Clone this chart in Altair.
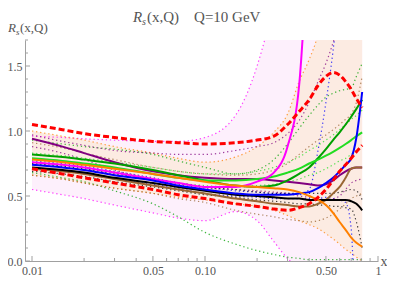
import altair as alt
import pandas as pd

X = [0.01, 0.015, 0.02, 0.03, 0.05, 0.07, 0.1, 0.15, 0.2, 0.25, 0.3, 0.35, 0.4,
     0.45, 0.5, 0.55, 0.6, 0.65, 0.7, 0.75, 0.81]

# central curves
purple = [0.94, 0.88, 0.83, 0.76, 0.69, 0.66, 0.64, 0.63, 0.63, 0.62, 0.61, 0.60, 0.59, 0.58, 0.59, 0.62, 0.66, 0.69, 0.71, 0.72, 0.72]
green = [0.82, 0.80, 0.78, 0.75, 0.70, 0.66, 0.62, 0.58, 0.57, 0.58, 0.62, 0.67, 0.72, 0.79, 0.86, 0.93, 0.99, 1.05, 1.11, 1.17, 1.24]
lime = [0.79, 0.77, 0.75, 0.72, 0.67, 0.64, 0.62, 0.62, 0.63, 0.65, 0.68, 0.71, 0.75, 0.78, 0.81, 0.84, 0.87, 0.90, 0.93, 0.96, 0.99]
magenta = [0.76, 0.74, 0.72, 0.68, 0.63, 0.60, 0.57, 0.57, 0.61, 0.68, 0.88, 1.35, 2.60, None, None, None, None, None, None, None, None]
blue = [0.74, 0.72, 0.70, 0.66, 0.62, 0.58, 0.55, 0.52, 0.51, 0.51, 0.51, 0.52, 0.53, 0.56, 0.60, 0.64, 0.69, 0.74, 0.79, 0.95, 1.30]
black = [0.72, 0.70, 0.68, 0.64, 0.60, 0.57, 0.54, 0.51, 0.50, 0.49, 0.48, 0.48, 0.47, 0.47, 0.47, 0.47, 0.47, 0.47, 0.46, 0.44, 0.39]
brown = [0.71, 0.69, 0.67, 0.63, 0.58, 0.55, 0.52, 0.48, 0.46, 0.44, 0.43, 0.42, 0.42, 0.44, 0.47, 0.52, 0.57, 0.64, 0.71, 0.72, 0.72]
orange = [0.78, 0.76, 0.74, 0.71, 0.67, 0.64, 0.61, 0.58, 0.57, 0.56, 0.55, 0.53, 0.50, 0.47, 0.43, 0.37, 0.30, 0.24, 0.18, 0.14, 0.11]
red_hi = [1.05, 1.01, 0.98, 0.95, 0.92, 0.91, 0.90, 0.91, 0.93, 0.96, 1.05, 1.15, 1.24, 1.35, 1.42, 1.45, 1.43, 1.38, 1.32, 1.25, 1.18]
red_lo = [0.71, 0.67, 0.64, 0.60, 0.55, 0.51, 0.48, 0.44, 0.42, 0.40, 0.39, 0.41, 0.44, 0.49, 0.55, 0.62, 0.69, 0.74, 0.79, 0.84, 0.89]

# error-band edges (dotted)
mag_hi = [0.96, 0.95, 0.94, 0.93, 0.92, 0.92, 0.95, 1.12, 1.50, 2.0, 2.6, 3, 3, 3, 3, 3, 3, 3, 3, 3, 3]
mag_lo = [0.55, 0.51, 0.48, 0.43, 0.37, 0.33, 0.31, 0.38, 0.31, 0.15, 0.02, -0.05, -0.05, -0.05, -0.05, -0.05, -0.05, -0.05, -0.05, -0.05, -0.05]
org_hi = [1.00, 0.96, 0.93, 0.88, 0.83, 0.79, 0.76, 0.80, 0.88, 0.99, 1.13, 1.38, 1.55, 1.75, 2.1, 2.5, 3, 3, 3, 3, 3]
org_lo = [0.66, 0.63, 0.60, 0.56, 0.52, 0.49, 0.47, 0.44, 0.42, 0.39, 0.35, 0.31, 0.28, 0.25, 0.21, 0.17, 0.13, 0.09, 0.06, 0.03, 0.0]
grn_hi = [0.93, 0.90, 0.88, 0.86, 0.82, 0.77, 0.72, 0.67, 0.70, 0.78, 0.90, 1.02, 1.12, 1.20, 1.26, 1.29, 1.31, 1.32, 1.33, 1.42, 1.52]
grn_lo = [0.68, 0.64, 0.61, 0.54, 0.44, 0.34, 0.22, 0.13, 0.08, 0.05, 0.03, 0.02, 0.01, 0.01, 0.01, 0.01, 0.01, 0.01, 0.01, 0.01, 0.01]
lim_hi = [0.83, 0.81, 0.79, 0.76, 0.72, 0.69, 0.67, 0.67, 0.69, 0.72, 0.76, 0.80, 0.85, 0.89, 0.93, 0.97, 1.01, 1.05, 1.09, 1.12, 1.16]
lim_lo = [0.75, 0.73, 0.71, 0.68, 0.63, 0.60, 0.58, 0.57, 0.58, 0.59, 0.61, 0.63, 0.66, 0.68, 0.71, 0.74, 0.77, 0.79, 0.82, 0.85, 0.87]
blu_hi = [0.77, 0.75, 0.73, 0.69, 0.64, 0.60, 0.57, 0.54, 0.53, 0.52, 0.52, 0.51, 0.55, 0.85, 1.22, 1.62, 2.1, 2.6, 3, 3, 3]
blu_lo = [0.71, 0.69, 0.67, 0.63, 0.59, 0.56, 0.52, 0.50, 0.49, 0.48, 0.48, 0.48, 0.48, 0.48, 0.49, 0.48, 0.47, 0.45, 0.25, -0.5, -0.5]
pur_hi = [0.97, 0.92, 0.89, 0.85, 0.83, 0.82, 0.82, 0.85, 0.88, 0.91, 0.98, 1.08, 1.22, 1.38, 1.52, 1.68, 1.85, 2.1, 2.4, 2.7, 3]
pur_lo = [0.88, 0.83, 0.78, 0.70, 0.63, 0.59, 0.56, 0.55, 0.54, 0.53, 0.52, 0.50, 0.49, 0.48, 0.47, 0.48, 0.50, 0.55, 0.60, 0.62, 0.63]
brn_hi = [0.91, 0.87, 0.83, 0.78, 0.72, 0.69, 0.67, 0.66, 0.67, 0.70, 0.75, 0.82, 0.88, 0.93, 0.97, 1.01, 1.05, 1.09, 1.13, 1.22, 1.42]
brn_lo = [0.66, 0.63, 0.60, 0.56, 0.52, 0.48, 0.45, 0.39, 0.36, 0.34, 0.32, 0.31, 0.30, 0.31, 0.33, 0.36, 0.40, 0.44, 0.48, 0.50, 0.52]
blk_hi = [0.75, 0.73, 0.71, 0.67, 0.63, 0.60, 0.57, 0.55, 0.53, 0.52, 0.52, 0.52, 0.52, 0.52, 0.52, 0.52, 0.53, 0.54, 0.55, 0.54, 0.47]
blk_lo = [0.69, 0.67, 0.65, 0.61, 0.57, 0.54, 0.51, 0.49, 0.47, 0.46, 0.45, 0.44, 0.44, 0.43, 0.43, 0.42, 0.42, 0.41, 0.40, 0.30, 0.10]

Y_MAJOR = [0.0, 0.5, 1.0, 1.5]
Y_MINOR = [0.1, 0.2, 0.3, 0.4, 0.6, 0.7, 0.8, 0.9, 1.1, 1.2, 1.3, 1.4, 1.6, 1.7]
X_MAJOR = [0.01, 0.05, 0.1, 0.5, 1.0]
X_MINOR = [0.02, 0.03, 0.04, 0.06, 0.07, 0.08, 0.09, 0.2, 0.3, 0.4, 0.6, 0.7, 0.8, 0.9]

C = {"purple": "#800080", "green": "#00A000", "lime": "#22DD22", "magenta": "#FF00FF",
     "blue": "#0000FF", "black": "#000000", "brown": "#996633", "orange": "#FF8000",
     "red": "#FF0000"}

solid = [("purple", purple, "purple"), ("green", green, "green"), ("lime", lime, "lime"),
         ("magenta", magenta, "magenta"), ("brown", brown, "brown"), ("black", black, "black"),
         ("blue", blue, "blue"), ("orange", orange, "orange")]
dashed = [("red_hi", red_hi, "red"), ("red_lo", red_lo, "red")]
dotted = [("mag_hi", mag_hi, "magenta"), ("mag_lo", mag_lo, "magenta"),
          ("org_hi", org_hi, "orange"), ("org_lo", org_lo, "orange"),
          ("grn_hi", grn_hi, "green"), ("grn_lo", grn_lo, "green"),
          ("lim_hi", lim_hi, "lime"), ("lim_lo", lim_lo, "lime"),
          ("blu_hi", blu_hi, "blue"), ("blu_lo", blu_lo, "blue"),
          ("pur_hi", pur_hi, "purple"), ("pur_lo", pur_lo, "purple"),
          ("brn_hi", brn_hi, "brown"), ("brn_lo", brn_lo, "brown"),
          ("blk_hi", blk_hi, "black"), ("blk_lo", blk_lo, "black")]


def long(items):
    rows = []
    for name, vals, col in items:
        for x, y in zip(X, vals):
            if y is not None:
                rows.append({"x": x, "y": y, "s": name, "col": C[col]})
    return pd.DataFrame(rows)


band = pd.DataFrame({"x": X, "m_lo": mag_lo, "m_hi": mag_hi, "o_lo": org_lo, "o_hi": org_hi})

W, H = 353, 221
PL, PR = 17, 9
AX = "#a0a0a0"
TXT = "#555555"
FONT = "Liberation Serif"

xs = alt.Scale(type="log", domain=[0.00911, 1.0], nice=False)
ys = alt.Scale(domain=[0, 1.7], nice=False, zero=False)
xaxis = alt.Axis(values=X_MAJOR, title=None, ticks=False, grid=False, domainColor=AX,
                 labelExpr="datum.value == 1 ? '1' : format(datum.value, '.2f')",
                 labelPadding=4, labelFlush=False, labelOverlap=False)
yaxis = alt.Axis(values=Y_MAJOR, title=None, ticks=False, grid=False, domainColor=AX,
                 format=".1f", labelPadding=3, labelFlush=False, labelOverlap=False)

area_m = alt.Chart(band).mark_area(color="#FDF0FC", clip=True, interpolate="monotone").encode(
    x=alt.X("x:Q", scale=xs, axis=xaxis), y=alt.Y("m_lo:Q", scale=ys, axis=yaxis), y2="m_hi:Q")
area_o = alt.Chart(band).mark_area(color="#FCEBE2", clip=True, interpolate="monotone").encode(
    x=alt.X("x:Q", scale=xs), y=alt.Y("o_lo:Q", scale=ys), y2="o_hi:Q")

enc = dict(x=alt.X("x:Q", scale=xs), y=alt.Y("y:Q", scale=ys),
           color=alt.Color("col:N", scale=None), detail="s:N")

dot_l = alt.Chart(long(dotted)).mark_line(clip=True, strokeWidth=1.2, strokeDash=[1.3, 2.8],
                                          opacity=0.75, interpolate="monotone").encode(**enc)
sol_l = alt.Chart(long(solid)).mark_line(clip=True, strokeWidth=2, interpolate="monotone").encode(**enc)
dash_l = alt.Chart(long(dashed)).mark_line(clip=True, strokeWidth=3, strokeDash=[6, 3],
                                           interpolate="monotone").encode(**enc)

ytm = alt.Chart(pd.DataFrame({"v": Y_MAJOR})).mark_rule(color=AX).encode(
    y=alt.Y("v:Q", scale=ys), x=alt.value(0), x2=alt.value(5))
ytn = alt.Chart(pd.DataFrame({"v": Y_MINOR})).mark_rule(color=AX).encode(
    y=alt.Y("v:Q", scale=ys), x=alt.value(0), x2=alt.value(3))
xtm = alt.Chart(pd.DataFrame({"v": X_MAJOR})).mark_rule(color=AX).encode(
    x=alt.X("v:Q", scale=xs), y=alt.value(H), y2=alt.value(H - 5))
xtn = alt.Chart(pd.DataFrame({"v": X_MINOR})).mark_rule(color=AX).encode(
    x=alt.X("v:Q", scale=xs), y=alt.value(H), y2=alt.value(H - 3))


def txt(s, x, y, size, italic=False, align="left"):
    return alt.Chart(pd.DataFrame({"t": [s]})).mark_text(
        font=FONT, fontSize=size, color=TXT, align=align, baseline="alphabetic",
        fontStyle="italic" if italic else "normal").encode(
        text="t:N", x=alt.value(x), y=alt.value(y))


NB = "\u00a0"
texts = [
    txt("R", 108, -18, 15, True), txt("s", 117, -15, 10, True),
    txt("(x,Q)" + NB * 4 + "Q=10" + NB + "GeV", 122, -18, 15),
    txt("R", -17, -8, 13, True), txt("s", -9, -5, 9, True), txt("(x,Q)", -5, -8, 13),
    txt("x", 359, H + 5, 14, align="center"),
]

chart = alt.layer(area_m, area_o, dot_l, sol_l, dash_l, ytm, ytn, xtm, xtn, *texts).properties(
    width=W, height=H,
    padding={"left": PL, "top": 32, "right": PR, "bottom": 22},
    autosize=alt.AutoSizeParams(type="none"),
).configure_view(stroke=None).configure_axis(
    labelFont=FONT, labelFontSize=12, labelColor=TXT)

chart.save("out.html", embed_options={"renderer": "svg", "actions": False})
